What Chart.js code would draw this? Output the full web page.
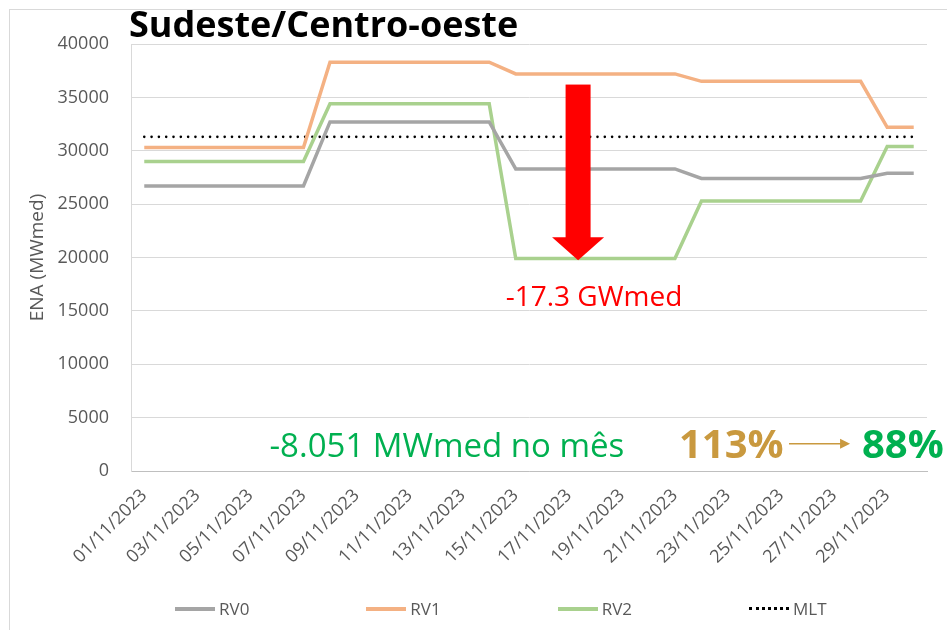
<!DOCTYPE html>
<html>
<head>
<meta charset="utf-8">
<script src="https://cdn.jsdelivr.net/npm/chart.js@4.4.0/dist/chart.umd.min.js"></script>
<style>
  body { margin: 0; background: #fff; font-family: 'Open Sans', sans-serif; }
  #wrap { position: relative; width: 947px; height: 630px; overflow: hidden; }
  #frame { position: absolute; left: 9px; top: 9px; right: -2px; bottom: -2px; border-left: 1px solid #d9d9d9; border-top: 1px solid #d9d9d9; pointer-events: none; }
  #legend { position: absolute; left: 175px; top: 597px; display: flex; gap: 117px; font-size: 17px; color: #595959; }
  .item { display: flex; align-items: center; }
  .sw { width: 40px; margin-right: 4px; }
</style>
</head>
<body>
<div id="wrap">
  <canvas id="chart" width="947" height="630"></canvas>
  <div id="frame"></div>
  <div id="legend"></div>
</div>
<script>
const title = 'Sudeste/Centro-oeste';
const yTitle = 'ENA (MWmed)';

const dates = [
  '01/11/2023', '02/11/2023', '03/11/2023', '04/11/2023', '05/11/2023',
  '06/11/2023', '07/11/2023', '08/11/2023', '09/11/2023', '10/11/2023',
  '11/11/2023', '12/11/2023', '13/11/2023', '14/11/2023', '15/11/2023',
  '16/11/2023', '17/11/2023', '18/11/2023', '19/11/2023', '20/11/2023',
  '21/11/2023', '22/11/2023', '23/11/2023', '24/11/2023', '25/11/2023',
  '26/11/2023', '27/11/2023', '28/11/2023', '29/11/2023', '30/11/2023'
];

const rv0 = [
  26700, 26700, 26700, 26700, 26700, 26700, 26700,
  32700, 32700, 32700, 32700, 32700, 32700, 32700,
  28300, 28300, 28300, 28300, 28300, 28300, 28300,
  27400, 27400, 27400, 27400, 27400, 27400, 27400,
  27900, 27900
];
const rv1 = [
  30300, 30300, 30300, 30300, 30300, 30300, 30300,
  38300, 38300, 38300, 38300, 38300, 38300, 38300,
  37200, 37200, 37200, 37200, 37200, 37200, 37200,
  36500, 36500, 36500, 36500, 36500, 36500, 36500,
  32200, 32200
];
const rv2 = [
  29000, 29000, 29000, 29000, 29000, 29000, 29000,
  34400, 34400, 34400, 34400, 34400, 34400, 34400,
  19900, 19900, 19900, 19900, 19900, 19900, 19900,
  25300, 25300, 25300, 25300, 25300, 25300, 25300,
  30400, 30400
];
const mlt = [
  31300, 31300, 31300, 31300, 31300, 31300, 31300, 31300, 31300, 31300,
  31300, 31300, 31300, 31300, 31300, 31300, 31300, 31300, 31300, 31300,
  31300, 31300, 31300, 31300, 31300, 31300, 31300, 31300, 31300, 31300
];

// annotations (x = category index, y = MWmed)
const drop = { x: 16.35, from: 36200, neck: 21900, to: 19750 };
const dropLabel = { text: '-17.3 GWmed', x: 16.95, y: 15500 };
const monthLabel = { text: '-8.051 MWmed no mês', x: 4.72, y: 1300 };
const pctFrom = { text: '113%', x: 20.15, y: 1200 };
const pctTo = { text: '88%', x: 27.05, y: 1200 };
const pctArrow = { from: 24.3, to: 26.6, y: 2550 };

const grey = '#595959';

const notes = {
  id: 'notes',
  afterDraw(chart) {
    const { ctx, chartArea: a, scales: { x, y } } = chart;
    ctx.save();

    ctx.fillStyle = '#000';
    ctx.font = 'bold 36px "Open Sans"';
    ctx.textBaseline = 'alphabetic';
    ctx.textAlign = 'left';
    ctx.fillText(title, a.left - 2, 37);

    // red arrow
    const ax = x.getPixelForValue(drop.x);
    const top = y.getPixelForValue(drop.from);
    const neck = y.getPixelForValue(drop.neck);
    const tip = y.getPixelForValue(drop.to);
    ctx.fillStyle = '#ff0000';
    ctx.fillRect(ax - 12.5, top, 25, neck - top + 1);
    ctx.beginPath();
    ctx.moveTo(ax - 26, neck);
    ctx.lineTo(ax + 26, neck);
    ctx.lineTo(ax, tip);
    ctx.closePath();
    ctx.fill();

    ctx.font = '28px "Open Sans"';
    ctx.textAlign = 'center';
    ctx.fillText(dropLabel.text, x.getPixelForValue(dropLabel.x), y.getPixelForValue(dropLabel.y));

    ctx.textAlign = 'left';
    ctx.fillStyle = '#00b050';
    ctx.font = '33px "Open Sans"';
    ctx.fillText(monthLabel.text, x.getPixelForValue(monthLabel.x), y.getPixelForValue(monthLabel.y));

    ctx.font = 'bold 40px "Open Sans"';
    ctx.fillStyle = '#c9993f';
    ctx.fillText(pctFrom.text, x.getPixelForValue(pctFrom.x), y.getPixelForValue(pctFrom.y));
    ctx.fillStyle = '#00b050';
    ctx.fillText(pctTo.text, x.getPixelForValue(pctTo.x), y.getPixelForValue(pctTo.y));

    // small gold arrow
    const x0 = x.getPixelForValue(pctArrow.from);
    const x1 = x.getPixelForValue(pctArrow.to);
    const py = y.getPixelForValue(pctArrow.y);
    ctx.strokeStyle = '#c9993f';
    ctx.lineWidth = 1.5;
    ctx.beginPath();
    ctx.moveTo(x0, py);
    ctx.lineTo(x1 - 8, py);
    ctx.stroke();
    ctx.fillStyle = '#c9993f';
    ctx.beginPath();
    ctx.moveTo(x1 - 10, py - 5);
    ctx.lineTo(x1, py);
    ctx.lineTo(x1 - 10, py + 5);
    ctx.closePath();
    ctx.fill();

    ctx.restore();
  }
};

const series = [
  { label: 'RV0', data: rv0, color: '#a5a5a5' },
  { label: 'RV1', data: rv1, color: '#f4b183' },
  { label: 'RV2', data: rv2, color: '#a9d18e' },
  { label: 'MLT', data: mlt, color: '#000000', dotted: true }
];

const chart = new Chart(document.getElementById('chart'), {
  type: 'line',
  data: {
    labels: dates,
    datasets: series.map(s => ({
      label: s.label,
      data: s.data,
      borderColor: s.color,
      borderWidth: s.dotted ? 2.6 : 3.5,
      borderDash: s.dotted ? [0.01, 7.3] : [],
      borderCapStyle: s.dotted ? 'round' : 'butt',
      pointRadius: 0,
      tension: 0,
      fill: false
    }))
  },
  options: {
    responsive: false,
    animation: false,
    layout: { padding: { top: 44, right: 20, left: 0, bottom: 0 } },
    plugins: {
      legend: { display: false },
      tooltip: { enabled: false }
    },
    scales: {
      x: {
        offset: true,
        grid: { display: false, drawTicks: false },
        border: { color: '#bfbfbf', width: 1 },
        ticks: {
          autoSkip: false,
          minRotation: 45,
          maxRotation: 45,
          padding: 14,
          color: grey,
          font: { family: 'Open Sans', size: 18 },
          callback(v, i) { return i % 2 === 0 ? dates[i] : null; }
        },
        afterFit(s) { s.height = 159; }
      },
      y: {
        min: 0,
        max: 40000,
        grid: { color: '#d9d9d9', drawTicks: false },
        border: { color: '#d9d9d9', width: 1 },
        ticks: {
          stepSize: 5000,
          padding: 22,
          color: grey,
          font: { family: 'Open Sans', size: 18 },
          callback: v => String(v)
        },
        title: {
          display: true,
          text: yTitle,
          color: grey,
          font: { family: 'Open Sans', size: 19 },
          padding: { top: 26, bottom: 0 }
        },
        afterFit(s) { s.width = 131; }
      }
    }
  },
  plugins: [notes]
});

const legend = document.getElementById('legend');
series.forEach(s => {
  const item = document.createElement('div');
  item.className = 'item';
  const sw = document.createElement('span');
  sw.className = 'sw';
  sw.style.borderTop = s.dotted ? '3px dotted ' + s.color : '4px solid ' + s.color;
  const t = document.createElement('span');
  t.textContent = s.label;
  item.appendChild(sw);
  item.appendChild(t);
  legend.appendChild(item);
});
</script>
</body>
</html>
